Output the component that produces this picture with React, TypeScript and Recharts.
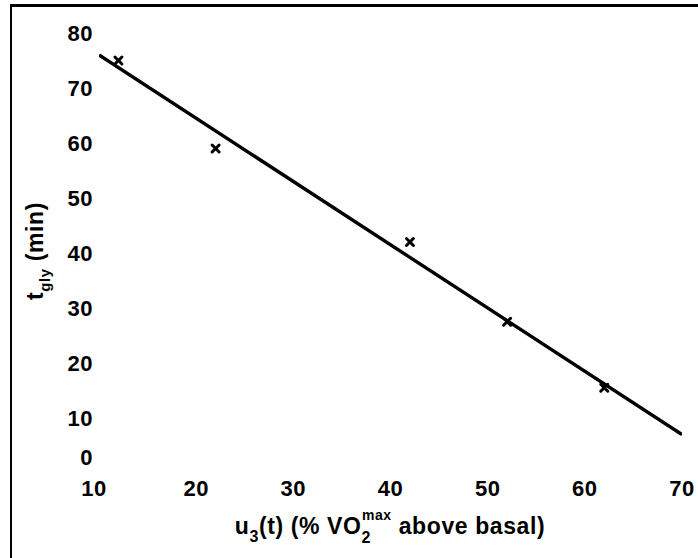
import React from "react";
import { ComposedChart, Scatter, Line, XAxis, YAxis } from "recharts";

// Measured duration of glycogen depletion vs. exercise intensity
const intensity = [12, 22, 42, 52, 62];
const tGly = [75, 59, 42, 27.5, 15.5];

// Regression line end points
const fitX = [10, 70];
const fitY = [76, 7];

const xTicks = [10, 20, 30, 40, 50, 60, 70];
const yTicks = [0, 10, 20, 30, 40, 50, 60, 70, 80];

const points = intensity.map((x, i) => ({ x, y: tGly[i] }));
const fit = fitX.map((x, i) => ({ x, y: fitY[i] }));

const FONT = "'Liberation Sans', Arial, sans-serif";

const Cross = (props: any) => {
  const { cx, cy } = props;
  const r = 3.5;
  return (
    <g stroke="#000" strokeWidth={3} strokeLinecap="round">
      <line x1={cx - r} y1={cy - r} x2={cx + r} y2={cy + r} />
      <line x1={cx - r} y1={cy + r} x2={cx + r} y2={cy - r} />
    </g>
  );
};

const YTick = (props: any) => {
  const { x, y, payload } = props;
  // the zero label is lifted clear of the first x label
  const shift = payload.value === 0 ? -16 : 0;
  return (
    <text x={x} y={y + shift} dy="0.36em" textAnchor="end" fontFamily={FONT} fontWeight="bold" fontSize={22} letterSpacing={0.5} fill="#000">
      {payload.value}
    </text>
  );
};

const XTick = (props: any) => {
  const { x, y, payload } = props;
  const shift = payload.value === 10 ? -5 : 0;
  return (
    <text x={x + shift} y={y} dy="0.71em" textAnchor="middle" fontFamily={FONT} fontWeight="bold" fontSize={22} letterSpacing={0.5} fill="#000">
      {payload.value}
    </text>
  );
};

export default function App() {
  return (
    <div style={{ position: "absolute", left: 0, top: 0, width: 698, height: 558, background: "#fff", overflow: "hidden" }}>
      <div
        style={{
          position: "absolute",
          left: 10,
          top: 4,
          width: 700,
          height: 600,
          borderLeft: "2px solid #000",
          borderTop: "3px solid #000",
        }}
      />
      <ComposedChart
        width={698}
        height={558}
        margin={{ top: 33, right: 16, bottom: 25, left: 0 }}
        style={{ position: "absolute", left: 0, top: 0 }}
      >
        <XAxis
          type="number"
          dataKey="x"
          domain={[10, 70]}
          ticks={xTicks}
          axisLine={false}
          tickLine={false}
          tickSize={0}
          tickMargin={7}
          height={60}
          tick={<XTick />}
          allowDataOverflow
        />
        <YAxis
          type="number"
          dataKey="y"
          domain={[0, 80]}
          ticks={yTicks}
          axisLine={false}
          tickLine={false}
          tickSize={0}
          tickMargin={6}
          width={99}
          tick={<YTick />}
          allowDataOverflow
        />
        <Line
          data={fit}
          dataKey="y"
          stroke="#000"
          strokeWidth={3.4}
          dot={false}
          activeDot={false}
          isAnimationActive={false}
          legendType="none"
        />
        <Scatter data={points} dataKey="y" shape={<Cross />} isAnimationActive={false} />
        <text x={35} y={251} transform="rotate(-90 35 251)" textAnchor="middle" dy="0.36em" fontFamily={FONT} fontWeight="bold" fontSize={23} letterSpacing={0.6} fill="#000">
          t
          <tspan fontSize={15} dy={7}>gly</tspan>
          <tspan dy={-7}> (min)</tspan>
        </text>
        <text x={390} y={534} textAnchor="middle" fontFamily={FONT} fontWeight="bold" fontSize={23} letterSpacing={0.6} fill="#000">
          u
          <tspan fontSize={16} dy={8}>3</tspan>
          <tspan dy={-8}>(t) (% VO</tspan>
          <tspan fontSize={16} dy={9}>2</tspan>
          <tspan fontSize={14} dx={-9} dy={-23}>max</tspan>
          <tspan dy={14}> above basal)</tspan>
        </text>
      </ComposedChart>
    </div>
  );
}
